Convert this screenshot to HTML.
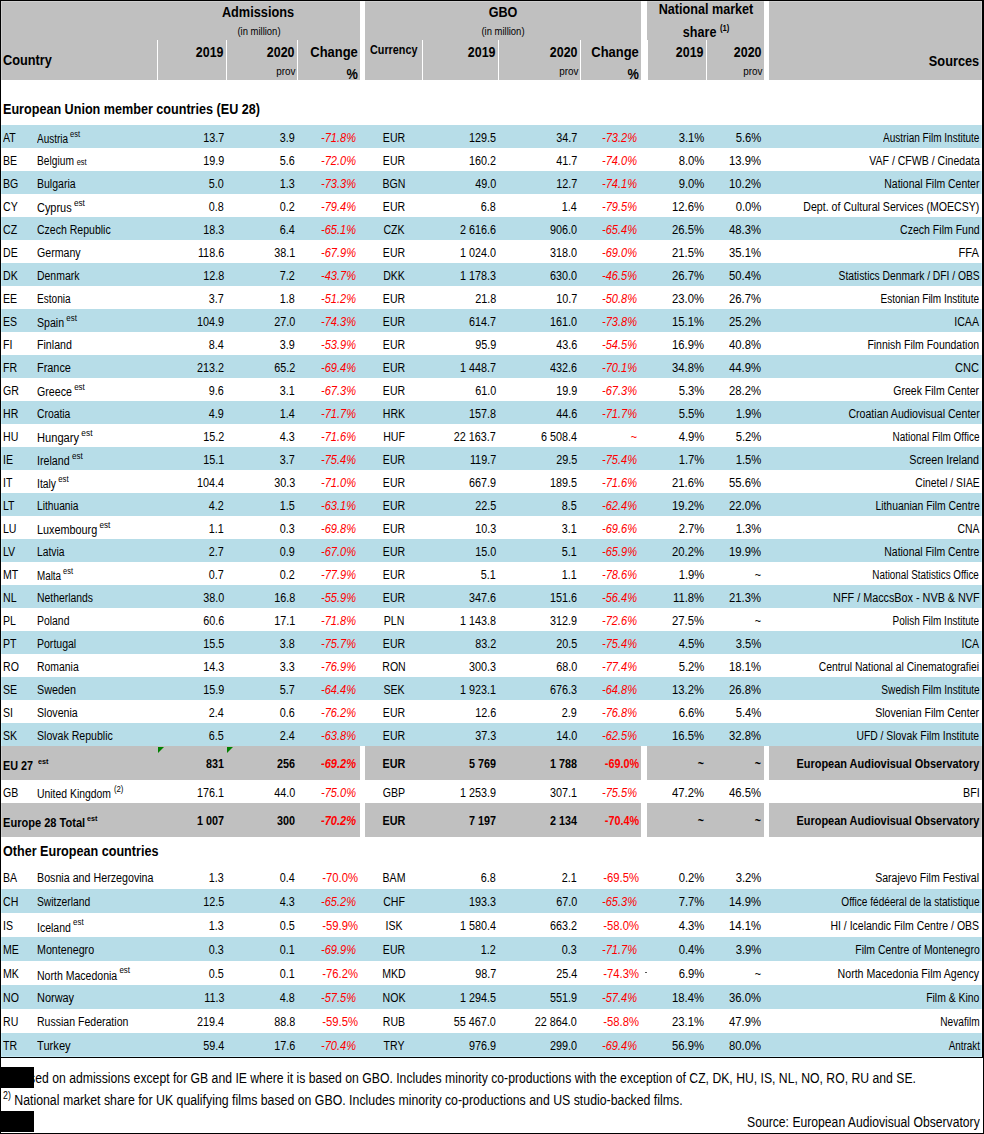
<!DOCTYPE html>
<html><head><meta charset="utf-8"><style>
html,body{margin:0;padding:0;background:#fff;width:984px;height:1134px;overflow:hidden;}
body{position:relative;font-family:"Liberation Sans",sans-serif;}
.r{position:absolute;}
.t{position:absolute;white-space:nowrap;line-height:normal;color:#000;}
</style></head><body>
<div class="r" style="left:1px;top:1px;width:359px;height:79px;background:#c0c0c0"></div>
<div class="r" style="left:365px;top:1px;width:276px;height:79px;background:#c0c0c0"></div>
<div class="r" style="left:647px;top:1px;width:117px;height:39px;background:#c0c0c0"></div>
<div class="r" style="left:648px;top:40px;width:116px;height:40px;background:#c0c0c0"></div>
<div class="r" style="left:769px;top:1px;width:213px;height:79px;background:#c0c0c0"></div>
<div class="r" style="left:157px;top:40px;width:1px;height:40px;background:#ffffff"></div>
<div class="r" style="left:226px;top:40px;width:1px;height:40px;background:#ffffff"></div>
<div class="r" style="left:297px;top:40px;width:1px;height:40px;background:#ffffff"></div>
<div class="r" style="left:422px;top:40px;width:1px;height:40px;background:#ffffff"></div>
<div class="r" style="left:498px;top:40px;width:1px;height:40px;background:#ffffff"></div>
<div class="r" style="left:580px;top:40px;width:1px;height:40px;background:#ffffff"></div>
<div class="r" style="left:706px;top:40px;width:1px;height:40px;background:#ffffff"></div>
<div class="r" style="left:1px;top:125px;width:981px;height:23px;background:#b7dde8"></div>
<div class="r" style="left:1px;top:171px;width:981px;height:23px;background:#b7dde8"></div>
<div class="r" style="left:1px;top:217px;width:981px;height:23px;background:#b7dde8"></div>
<div class="r" style="left:1px;top:263px;width:981px;height:23px;background:#b7dde8"></div>
<div class="r" style="left:1px;top:309px;width:981px;height:23px;background:#b7dde8"></div>
<div class="r" style="left:1px;top:355px;width:981px;height:23px;background:#b7dde8"></div>
<div class="r" style="left:1px;top:401px;width:981px;height:23px;background:#b7dde8"></div>
<div class="r" style="left:1px;top:447px;width:981px;height:23px;background:#b7dde8"></div>
<div class="r" style="left:1px;top:493px;width:981px;height:23px;background:#b7dde8"></div>
<div class="r" style="left:1px;top:539px;width:981px;height:23px;background:#b7dde8"></div>
<div class="r" style="left:1px;top:585px;width:981px;height:23px;background:#b7dde8"></div>
<div class="r" style="left:1px;top:631px;width:981px;height:23px;background:#b7dde8"></div>
<div class="r" style="left:1px;top:677px;width:981px;height:23px;background:#b7dde8"></div>
<div class="r" style="left:1px;top:723px;width:981px;height:23px;background:#b7dde8"></div>
<div class="r" style="left:1px;top:746px;width:359px;height:34px;background:#c0c0c0"></div>
<div class="r" style="left:365px;top:746px;width:276px;height:34px;background:#c0c0c0"></div>
<div class="r" style="left:647px;top:746px;width:117px;height:34px;background:#c0c0c0"></div>
<div class="r" style="left:769px;top:746px;width:213px;height:34px;background:#c0c0c0"></div>
<div class="r" style="left:1px;top:803px;width:359px;height:34px;background:#c0c0c0"></div>
<div class="r" style="left:365px;top:803px;width:276px;height:34px;background:#c0c0c0"></div>
<div class="r" style="left:647px;top:803px;width:117px;height:34px;background:#c0c0c0"></div>
<div class="r" style="left:769px;top:803px;width:213px;height:34px;background:#c0c0c0"></div>
<div class="r" style="left:1px;top:889px;width:981px;height:24px;background:#b7dde8"></div>
<div class="r" style="left:1px;top:937px;width:981px;height:24px;background:#b7dde8"></div>
<div class="r" style="left:1px;top:985px;width:981px;height:24px;background:#b7dde8"></div>
<div class="r" style="left:1px;top:1033px;width:981px;height:24px;background:#b7dde8"></div>
<div class="r" style="left:1px;top:1px;width:359px;height:1px;background:#cfcfcf"></div>
<div class="r" style="left:365px;top:1px;width:276px;height:1px;background:#cfcfcf"></div>
<div class="r" style="left:647px;top:1px;width:117px;height:1px;background:#cfcfcf"></div>
<div class="r" style="left:769px;top:1px;width:213px;height:1px;background:#cfcfcf"></div>
<div class="r" style="left:1px;top:2px;width:1px;height:78px;background:#cfcfcf"></div>
<div class="r" style="left:981px;top:2px;width:1px;height:78px;background:#cfcfcf"></div>
<div class="r" style="left:1px;top:125px;width:1px;height:23px;background:#c6ecf7"></div>
<div class="r" style="left:981px;top:125px;width:1px;height:23px;background:#c6ecf7"></div>
<div class="r" style="left:1px;top:171px;width:1px;height:23px;background:#c6ecf7"></div>
<div class="r" style="left:981px;top:171px;width:1px;height:23px;background:#c6ecf7"></div>
<div class="r" style="left:1px;top:217px;width:1px;height:23px;background:#c6ecf7"></div>
<div class="r" style="left:981px;top:217px;width:1px;height:23px;background:#c6ecf7"></div>
<div class="r" style="left:1px;top:263px;width:1px;height:23px;background:#c6ecf7"></div>
<div class="r" style="left:981px;top:263px;width:1px;height:23px;background:#c6ecf7"></div>
<div class="r" style="left:1px;top:309px;width:1px;height:23px;background:#c6ecf7"></div>
<div class="r" style="left:981px;top:309px;width:1px;height:23px;background:#c6ecf7"></div>
<div class="r" style="left:1px;top:355px;width:1px;height:23px;background:#c6ecf7"></div>
<div class="r" style="left:981px;top:355px;width:1px;height:23px;background:#c6ecf7"></div>
<div class="r" style="left:1px;top:401px;width:1px;height:23px;background:#c6ecf7"></div>
<div class="r" style="left:981px;top:401px;width:1px;height:23px;background:#c6ecf7"></div>
<div class="r" style="left:1px;top:447px;width:1px;height:23px;background:#c6ecf7"></div>
<div class="r" style="left:981px;top:447px;width:1px;height:23px;background:#c6ecf7"></div>
<div class="r" style="left:1px;top:493px;width:1px;height:23px;background:#c6ecf7"></div>
<div class="r" style="left:981px;top:493px;width:1px;height:23px;background:#c6ecf7"></div>
<div class="r" style="left:1px;top:539px;width:1px;height:23px;background:#c6ecf7"></div>
<div class="r" style="left:981px;top:539px;width:1px;height:23px;background:#c6ecf7"></div>
<div class="r" style="left:1px;top:585px;width:1px;height:23px;background:#c6ecf7"></div>
<div class="r" style="left:981px;top:585px;width:1px;height:23px;background:#c6ecf7"></div>
<div class="r" style="left:1px;top:631px;width:1px;height:23px;background:#c6ecf7"></div>
<div class="r" style="left:981px;top:631px;width:1px;height:23px;background:#c6ecf7"></div>
<div class="r" style="left:1px;top:677px;width:1px;height:23px;background:#c6ecf7"></div>
<div class="r" style="left:981px;top:677px;width:1px;height:23px;background:#c6ecf7"></div>
<div class="r" style="left:1px;top:723px;width:1px;height:23px;background:#c6ecf7"></div>
<div class="r" style="left:981px;top:723px;width:1px;height:23px;background:#c6ecf7"></div>
<div class="r" style="left:1px;top:746px;width:1px;height:34px;background:#cfcfcf"></div>
<div class="r" style="left:981px;top:746px;width:1px;height:34px;background:#cfcfcf"></div>
<div class="r" style="left:1px;top:803px;width:1px;height:34px;background:#cfcfcf"></div>
<div class="r" style="left:981px;top:803px;width:1px;height:34px;background:#cfcfcf"></div>
<div class="r" style="left:1px;top:889px;width:1px;height:24px;background:#c6ecf7"></div>
<div class="r" style="left:981px;top:889px;width:1px;height:24px;background:#c6ecf7"></div>
<div class="r" style="left:1px;top:937px;width:1px;height:24px;background:#c6ecf7"></div>
<div class="r" style="left:981px;top:937px;width:1px;height:24px;background:#c6ecf7"></div>
<div class="r" style="left:1px;top:985px;width:1px;height:24px;background:#c6ecf7"></div>
<div class="r" style="left:981px;top:985px;width:1px;height:24px;background:#c6ecf7"></div>
<div class="r" style="left:1px;top:1033px;width:1px;height:24px;background:#c6ecf7"></div>
<div class="r" style="left:981px;top:1033px;width:1px;height:24px;background:#c6ecf7"></div>
<div class="r" style="left:2px;top:1056px;width:979px;height:1px;background:#c6ecf7"></div>
<div class="r" style="left:0px;top:0px;width:984px;height:1px;background:#000"></div>
<div class="r" style="left:0px;top:0px;width:1px;height:1134px;background:#000"></div>
<div class="r" style="left:982px;top:0px;width:2px;height:1058px;background:#000"></div>
<div class="r" style="left:983px;top:1058px;width:1px;height:76px;background:#000"></div>
<div class="r" style="left:0px;top:1057px;width:983px;height:1px;background:#000"></div>
<div class="r" style="left:0px;top:1133px;width:984px;height:1px;background:#000"></div>
<div class="t" style="top:51px;font-size:15.5px;font-weight:bold;left:3px;transform:scaleX(0.823);transform-origin:0 0;">Country</div>
<div class="t" style="top:4px;font-size:14px;font-weight:bold;left:258.3px;transform:translateX(-50%) scaleX(0.91);transform-origin:50% 0;">Admissions</div>
<div class="t" style="top:25px;font-size:10.5px;left:259px;transform:translateX(-50%) scaleX(0.9);transform-origin:50% 0;">(in million)</div>
<div class="t" style="top:43px;font-size:15.5px;font-weight:bold;right:760.3px;transform:scaleX(0.803);transform-origin:100% 0;">2019</div>
<div class="t" style="top:43px;font-size:15.5px;font-weight:bold;right:689.4px;transform:scaleX(0.803);transform-origin:100% 0;">2020</div>
<div class="t" style="top:65px;font-size:11px;right:688.8px;transform:scaleX(0.9);transform-origin:100% 0;">prov</div>
<div class="t" style="top:43px;font-size:15.5px;font-weight:bold;right:626.3px;transform:scaleX(0.837);transform-origin:100% 0;">Change</div>
<div class="t" style="top:65px;font-size:15.5px;font-weight:bold;right:626.3px;transform:scaleX(0.823);transform-origin:100% 0;">%</div>
<div class="t" style="top:4px;font-size:14px;font-weight:bold;left:503px;transform:translateX(-50%) scaleX(0.9);transform-origin:50% 0;">GBO</div>
<div class="t" style="top:25px;font-size:10.5px;left:503px;transform:translateX(-50%) scaleX(0.9);transform-origin:50% 0;">(in million)</div>
<div class="t" style="top:43px;font-size:12px;font-weight:bold;left:370px;transform:scaleX(0.9);transform-origin:0 0;">Currency</div>
<div class="t" style="top:43px;font-size:15.5px;font-weight:bold;right:488.6px;transform:scaleX(0.803);transform-origin:100% 0;">2019</div>
<div class="t" style="top:43px;font-size:15.5px;font-weight:bold;right:406.5px;transform:scaleX(0.803);transform-origin:100% 0;">2020</div>
<div class="t" style="top:65px;font-size:11px;right:406px;transform:scaleX(0.9);transform-origin:100% 0;">prov</div>
<div class="t" style="top:43px;font-size:15.5px;font-weight:bold;right:345px;transform:scaleX(0.837);transform-origin:100% 0;">Change</div>
<div class="t" style="top:65px;font-size:15.5px;font-weight:bold;right:345px;transform:scaleX(0.823);transform-origin:100% 0;">%</div>
<div class="t" style="top:1px;font-size:14px;font-weight:bold;left:706px;transform:translateX(-50%) scaleX(0.9);transform-origin:50% 0;">National market</div>
<div class="t" style="top:24px;font-size:14px;font-weight:bold;left:706px;transform:translateX(-50%) scaleX(0.9);transform-origin:50% 0;">share <span style="font-size:8.5px;position:relative;top:-6px">(1)</span></div>
<div class="t" style="top:43px;font-size:15.5px;font-weight:bold;right:280.4px;transform:scaleX(0.803);transform-origin:100% 0;">2019</div>
<div class="t" style="top:43px;font-size:15.5px;font-weight:bold;right:222.39999999999998px;transform:scaleX(0.803);transform-origin:100% 0;">2020</div>
<div class="t" style="top:65px;font-size:11px;right:222px;transform:scaleX(0.9);transform-origin:100% 0;">prov</div>
<div class="t" style="top:52px;font-size:15.5px;font-weight:bold;right:4.5px;transform:scaleX(0.823);transform-origin:100% 0;">Sources</div>
<div class="t" style="top:101px;font-size:14px;font-weight:bold;left:3px;transform:scaleX(0.9);transform-origin:0 0;">European Union member countries (EU 28)</div>
<div class="t" style="top:843px;font-size:14px;font-weight:bold;left:3px;transform:scaleX(0.9);transform-origin:0 0;">Other European countries</div>
<div class="t" style="top:131px;font-size:12px;left:3px;transform:scaleX(0.88);transform-origin:0 0;">AT</div>
<div class="t" style="top:132px;font-size:12px;left:37px;transform:scaleX(0.829);transform-origin:0 0;">Austria<span style="font-size:9px;position:relative;top:-6px"> est</span></div>
<div class="t" style="top:131px;font-size:12px;right:760px;transform:scaleX(0.9);transform-origin:100% 0;">13.7</div>
<div class="t" style="top:131px;font-size:12px;right:689px;transform:scaleX(0.9);transform-origin:100% 0;">3.9</div>
<div class="t" style="top:131px;font-size:12px;font-style:italic;color:#ff0000;right:628px;transform:scaleX(0.92);transform-origin:100% 0;">-71.8%</div>
<div class="t" style="top:131px;font-size:12px;left:393.5px;transform:translateX(-50%) scaleX(0.88);transform-origin:50% 0;">EUR</div>
<div class="t" style="top:131px;font-size:12px;right:488px;transform:scaleX(0.9);transform-origin:100% 0;">129.5</div>
<div class="t" style="top:131px;font-size:12px;right:407px;transform:scaleX(0.9);transform-origin:100% 0;">34.7</div>
<div class="t" style="top:131px;font-size:12px;font-style:italic;color:#ff0000;right:347px;transform:scaleX(0.92);transform-origin:100% 0;">-73.2%</div>
<div class="t" style="top:131px;font-size:12px;right:280px;transform:scaleX(0.94);transform-origin:100% 0;">3.1%</div>
<div class="t" style="top:131px;font-size:12px;right:222.5px;transform:scaleX(0.94);transform-origin:100% 0;">5.6%</div>
<div class="t" style="top:131px;font-size:12px;right:4.7000000000000455px;transform:scaleX(0.835);transform-origin:100% 0;">Austrian Film Institute</div>
<div class="t" style="top:154px;font-size:12px;left:3px;transform:scaleX(0.88);transform-origin:0 0;">BE</div>
<div class="t" style="top:154px;font-size:12px;left:37px;transform:scaleX(0.851);transform-origin:0 0;">Belgium <span style="font-size:8.7px;position:relative;top:0px">est</span></div>
<div class="t" style="top:154px;font-size:12px;right:760px;transform:scaleX(0.9);transform-origin:100% 0;">19.9</div>
<div class="t" style="top:154px;font-size:12px;right:689px;transform:scaleX(0.9);transform-origin:100% 0;">5.6</div>
<div class="t" style="top:154px;font-size:12px;font-style:italic;color:#ff0000;right:628px;transform:scaleX(0.92);transform-origin:100% 0;">-72.0%</div>
<div class="t" style="top:154px;font-size:12px;left:393.5px;transform:translateX(-50%) scaleX(0.88);transform-origin:50% 0;">EUR</div>
<div class="t" style="top:154px;font-size:12px;right:488px;transform:scaleX(0.9);transform-origin:100% 0;">160.2</div>
<div class="t" style="top:154px;font-size:12px;right:407px;transform:scaleX(0.9);transform-origin:100% 0;">41.7</div>
<div class="t" style="top:154px;font-size:12px;font-style:italic;color:#ff0000;right:347px;transform:scaleX(0.92);transform-origin:100% 0;">-74.0%</div>
<div class="t" style="top:154px;font-size:12px;right:280px;transform:scaleX(0.94);transform-origin:100% 0;">8.0%</div>
<div class="t" style="top:154px;font-size:12px;right:222.5px;transform:scaleX(0.94);transform-origin:100% 0;">13.9%</div>
<div class="t" style="top:154px;font-size:12px;right:4.7000000000000455px;transform:scaleX(0.879);transform-origin:100% 0;">VAF / CFWB / Cinedata</div>
<div class="t" style="top:177px;font-size:12px;left:3px;transform:scaleX(0.88);transform-origin:0 0;">BG</div>
<div class="t" style="top:177px;font-size:12px;left:37px;transform:scaleX(0.877);transform-origin:0 0;">Bulgaria</div>
<div class="t" style="top:177px;font-size:12px;right:760px;transform:scaleX(0.9);transform-origin:100% 0;">5.0</div>
<div class="t" style="top:177px;font-size:12px;right:689px;transform:scaleX(0.9);transform-origin:100% 0;">1.3</div>
<div class="t" style="top:177px;font-size:12px;font-style:italic;color:#ff0000;right:628px;transform:scaleX(0.92);transform-origin:100% 0;">-73.3%</div>
<div class="t" style="top:177px;font-size:12px;left:393.5px;transform:translateX(-50%) scaleX(0.88);transform-origin:50% 0;">BGN</div>
<div class="t" style="top:177px;font-size:12px;right:488px;transform:scaleX(0.9);transform-origin:100% 0;">49.0</div>
<div class="t" style="top:177px;font-size:12px;right:407px;transform:scaleX(0.9);transform-origin:100% 0;">12.7</div>
<div class="t" style="top:177px;font-size:12px;font-style:italic;color:#ff0000;right:347px;transform:scaleX(0.92);transform-origin:100% 0;">-74.1%</div>
<div class="t" style="top:177px;font-size:12px;right:280px;transform:scaleX(0.94);transform-origin:100% 0;">9.0%</div>
<div class="t" style="top:177px;font-size:12px;right:222.5px;transform:scaleX(0.94);transform-origin:100% 0;">10.2%</div>
<div class="t" style="top:177px;font-size:12px;right:4.7000000000000455px;transform:scaleX(0.869);transform-origin:100% 0;">National Film Center</div>
<div class="t" style="top:200px;font-size:12px;left:3px;transform:scaleX(0.88);transform-origin:0 0;">CY</div>
<div class="t" style="top:201px;font-size:12px;left:37px;transform:scaleX(0.911);transform-origin:0 0;">Cyprus<span style="font-size:9px;position:relative;top:-6px"> est</span></div>
<div class="t" style="top:200px;font-size:12px;right:760px;transform:scaleX(0.9);transform-origin:100% 0;">0.8</div>
<div class="t" style="top:200px;font-size:12px;right:689px;transform:scaleX(0.9);transform-origin:100% 0;">0.2</div>
<div class="t" style="top:200px;font-size:12px;font-style:italic;color:#ff0000;right:628px;transform:scaleX(0.92);transform-origin:100% 0;">-79.4%</div>
<div class="t" style="top:200px;font-size:12px;left:393.5px;transform:translateX(-50%) scaleX(0.88);transform-origin:50% 0;">EUR</div>
<div class="t" style="top:200px;font-size:12px;right:488px;transform:scaleX(0.9);transform-origin:100% 0;">6.8</div>
<div class="t" style="top:200px;font-size:12px;right:407px;transform:scaleX(0.9);transform-origin:100% 0;">1.4</div>
<div class="t" style="top:200px;font-size:12px;font-style:italic;color:#ff0000;right:347px;transform:scaleX(0.92);transform-origin:100% 0;">-79.5%</div>
<div class="t" style="top:200px;font-size:12px;right:280px;transform:scaleX(0.94);transform-origin:100% 0;">12.6%</div>
<div class="t" style="top:200px;font-size:12px;right:222.5px;transform:scaleX(0.94);transform-origin:100% 0;">0.0%</div>
<div class="t" style="top:200px;font-size:12px;right:4.7000000000000455px;transform:scaleX(0.883);transform-origin:100% 0;">Dept. of Cultural Services (MOECSY)</div>
<div class="t" style="top:223px;font-size:12px;left:3px;transform:scaleX(0.88);transform-origin:0 0;">CZ</div>
<div class="t" style="top:223px;font-size:12px;left:37px;transform:scaleX(0.877);transform-origin:0 0;">Czech Republic</div>
<div class="t" style="top:223px;font-size:12px;right:760px;transform:scaleX(0.9);transform-origin:100% 0;">18.3</div>
<div class="t" style="top:223px;font-size:12px;right:689px;transform:scaleX(0.9);transform-origin:100% 0;">6.4</div>
<div class="t" style="top:223px;font-size:12px;font-style:italic;color:#ff0000;right:628px;transform:scaleX(0.92);transform-origin:100% 0;">-65.1%</div>
<div class="t" style="top:223px;font-size:12px;left:393.5px;transform:translateX(-50%) scaleX(0.88);transform-origin:50% 0;">CZK</div>
<div class="t" style="top:223px;font-size:12px;right:488px;transform:scaleX(0.9);transform-origin:100% 0;">2 616.6</div>
<div class="t" style="top:223px;font-size:12px;right:407px;transform:scaleX(0.9);transform-origin:100% 0;">906.0</div>
<div class="t" style="top:223px;font-size:12px;font-style:italic;color:#ff0000;right:347px;transform:scaleX(0.92);transform-origin:100% 0;">-65.4%</div>
<div class="t" style="top:223px;font-size:12px;right:280px;transform:scaleX(0.94);transform-origin:100% 0;">26.5%</div>
<div class="t" style="top:223px;font-size:12px;right:222.5px;transform:scaleX(0.94);transform-origin:100% 0;">48.3%</div>
<div class="t" style="top:223px;font-size:12px;right:4.7000000000000455px;transform:scaleX(0.878);transform-origin:100% 0;">Czech Film Fund</div>
<div class="t" style="top:246px;font-size:12px;left:3px;transform:scaleX(0.88);transform-origin:0 0;">DE</div>
<div class="t" style="top:246px;font-size:12px;left:37px;transform:scaleX(0.884);transform-origin:0 0;">Germany</div>
<div class="t" style="top:246px;font-size:12px;right:760px;transform:scaleX(0.9);transform-origin:100% 0;">118.6</div>
<div class="t" style="top:246px;font-size:12px;right:689px;transform:scaleX(0.9);transform-origin:100% 0;">38.1</div>
<div class="t" style="top:246px;font-size:12px;font-style:italic;color:#ff0000;right:628px;transform:scaleX(0.92);transform-origin:100% 0;">-67.9%</div>
<div class="t" style="top:246px;font-size:12px;left:393.5px;transform:translateX(-50%) scaleX(0.88);transform-origin:50% 0;">EUR</div>
<div class="t" style="top:246px;font-size:12px;right:488px;transform:scaleX(0.9);transform-origin:100% 0;">1 024.0</div>
<div class="t" style="top:246px;font-size:12px;right:407px;transform:scaleX(0.9);transform-origin:100% 0;">318.0</div>
<div class="t" style="top:246px;font-size:12px;font-style:italic;color:#ff0000;right:347px;transform:scaleX(0.92);transform-origin:100% 0;">-69.0%</div>
<div class="t" style="top:246px;font-size:12px;right:280px;transform:scaleX(0.94);transform-origin:100% 0;">21.5%</div>
<div class="t" style="top:246px;font-size:12px;right:222.5px;transform:scaleX(0.94);transform-origin:100% 0;">35.1%</div>
<div class="t" style="top:246px;font-size:12px;right:4.7000000000000455px;transform:scaleX(0.93);transform-origin:100% 0;">FFA</div>
<div class="t" style="top:269px;font-size:12px;left:3px;transform:scaleX(0.88);transform-origin:0 0;">DK</div>
<div class="t" style="top:269px;font-size:12px;left:37px;transform:scaleX(0.871);transform-origin:0 0;">Denmark</div>
<div class="t" style="top:269px;font-size:12px;right:760px;transform:scaleX(0.9);transform-origin:100% 0;">12.8</div>
<div class="t" style="top:269px;font-size:12px;right:689px;transform:scaleX(0.9);transform-origin:100% 0;">7.2</div>
<div class="t" style="top:269px;font-size:12px;font-style:italic;color:#ff0000;right:628px;transform:scaleX(0.92);transform-origin:100% 0;">-43.7%</div>
<div class="t" style="top:269px;font-size:12px;left:393.5px;transform:translateX(-50%) scaleX(0.88);transform-origin:50% 0;">DKK</div>
<div class="t" style="top:269px;font-size:12px;right:488px;transform:scaleX(0.9);transform-origin:100% 0;">1 178.3</div>
<div class="t" style="top:269px;font-size:12px;right:407px;transform:scaleX(0.9);transform-origin:100% 0;">630.0</div>
<div class="t" style="top:269px;font-size:12px;font-style:italic;color:#ff0000;right:347px;transform:scaleX(0.92);transform-origin:100% 0;">-46.5%</div>
<div class="t" style="top:269px;font-size:12px;right:280px;transform:scaleX(0.94);transform-origin:100% 0;">26.7%</div>
<div class="t" style="top:269px;font-size:12px;right:222.5px;transform:scaleX(0.94);transform-origin:100% 0;">50.4%</div>
<div class="t" style="top:269px;font-size:12px;right:4.7000000000000455px;transform:scaleX(0.857);transform-origin:100% 0;">Statistics Denmark / DFI / OBS</div>
<div class="t" style="top:292px;font-size:12px;left:3px;transform:scaleX(0.88);transform-origin:0 0;">EE</div>
<div class="t" style="top:292px;font-size:12px;left:37px;transform:scaleX(0.84);transform-origin:0 0;">Estonia</div>
<div class="t" style="top:292px;font-size:12px;right:760px;transform:scaleX(0.9);transform-origin:100% 0;">3.7</div>
<div class="t" style="top:292px;font-size:12px;right:689px;transform:scaleX(0.9);transform-origin:100% 0;">1.8</div>
<div class="t" style="top:292px;font-size:12px;font-style:italic;color:#ff0000;right:628px;transform:scaleX(0.92);transform-origin:100% 0;">-51.2%</div>
<div class="t" style="top:292px;font-size:12px;left:393.5px;transform:translateX(-50%) scaleX(0.88);transform-origin:50% 0;">EUR</div>
<div class="t" style="top:292px;font-size:12px;right:488px;transform:scaleX(0.9);transform-origin:100% 0;">21.8</div>
<div class="t" style="top:292px;font-size:12px;right:407px;transform:scaleX(0.9);transform-origin:100% 0;">10.7</div>
<div class="t" style="top:292px;font-size:12px;font-style:italic;color:#ff0000;right:347px;transform:scaleX(0.92);transform-origin:100% 0;">-50.8%</div>
<div class="t" style="top:292px;font-size:12px;right:280px;transform:scaleX(0.94);transform-origin:100% 0;">23.0%</div>
<div class="t" style="top:292px;font-size:12px;right:222.5px;transform:scaleX(0.94);transform-origin:100% 0;">26.7%</div>
<div class="t" style="top:292px;font-size:12px;right:4.7000000000000455px;transform:scaleX(0.835);transform-origin:100% 0;">Estonian Film Institute</div>
<div class="t" style="top:315px;font-size:12px;left:3px;transform:scaleX(0.88);transform-origin:0 0;">ES</div>
<div class="t" style="top:316px;font-size:12px;left:37px;transform:scaleX(0.883);transform-origin:0 0;">Spain<span style="font-size:9px;position:relative;top:-6px"> est</span></div>
<div class="t" style="top:315px;font-size:12px;right:760px;transform:scaleX(0.9);transform-origin:100% 0;">104.9</div>
<div class="t" style="top:315px;font-size:12px;right:689px;transform:scaleX(0.9);transform-origin:100% 0;">27.0</div>
<div class="t" style="top:315px;font-size:12px;font-style:italic;color:#ff0000;right:628px;transform:scaleX(0.92);transform-origin:100% 0;">-74.3%</div>
<div class="t" style="top:315px;font-size:12px;left:393.5px;transform:translateX(-50%) scaleX(0.88);transform-origin:50% 0;">EUR</div>
<div class="t" style="top:315px;font-size:12px;right:488px;transform:scaleX(0.9);transform-origin:100% 0;">614.7</div>
<div class="t" style="top:315px;font-size:12px;right:407px;transform:scaleX(0.9);transform-origin:100% 0;">161.0</div>
<div class="t" style="top:315px;font-size:12px;font-style:italic;color:#ff0000;right:347px;transform:scaleX(0.92);transform-origin:100% 0;">-73.8%</div>
<div class="t" style="top:315px;font-size:12px;right:280px;transform:scaleX(0.94);transform-origin:100% 0;">15.1%</div>
<div class="t" style="top:315px;font-size:12px;right:222.5px;transform:scaleX(0.94);transform-origin:100% 0;">25.2%</div>
<div class="t" style="top:315px;font-size:12px;right:4.7000000000000455px;transform:scaleX(0.883);transform-origin:100% 0;">ICAA</div>
<div class="t" style="top:338px;font-size:12px;left:3px;transform:scaleX(0.88);transform-origin:0 0;">FI</div>
<div class="t" style="top:338px;font-size:12px;left:37px;transform:scaleX(0.887);transform-origin:0 0;">Finland</div>
<div class="t" style="top:338px;font-size:12px;right:760px;transform:scaleX(0.9);transform-origin:100% 0;">8.4</div>
<div class="t" style="top:338px;font-size:12px;right:689px;transform:scaleX(0.9);transform-origin:100% 0;">3.9</div>
<div class="t" style="top:338px;font-size:12px;font-style:italic;color:#ff0000;right:628px;transform:scaleX(0.92);transform-origin:100% 0;">-53.9%</div>
<div class="t" style="top:338px;font-size:12px;left:393.5px;transform:translateX(-50%) scaleX(0.88);transform-origin:50% 0;">EUR</div>
<div class="t" style="top:338px;font-size:12px;right:488px;transform:scaleX(0.9);transform-origin:100% 0;">95.9</div>
<div class="t" style="top:338px;font-size:12px;right:407px;transform:scaleX(0.9);transform-origin:100% 0;">43.6</div>
<div class="t" style="top:338px;font-size:12px;font-style:italic;color:#ff0000;right:347px;transform:scaleX(0.92);transform-origin:100% 0;">-54.5%</div>
<div class="t" style="top:338px;font-size:12px;right:280px;transform:scaleX(0.94);transform-origin:100% 0;">16.9%</div>
<div class="t" style="top:338px;font-size:12px;right:222.5px;transform:scaleX(0.94);transform-origin:100% 0;">40.8%</div>
<div class="t" style="top:338px;font-size:12px;right:4.7000000000000455px;transform:scaleX(0.872);transform-origin:100% 0;">Finnish Film Foundation</div>
<div class="t" style="top:361px;font-size:12px;left:3px;transform:scaleX(0.88);transform-origin:0 0;">FR</div>
<div class="t" style="top:361px;font-size:12px;left:37px;transform:scaleX(0.908);transform-origin:0 0;">France</div>
<div class="t" style="top:361px;font-size:12px;right:760px;transform:scaleX(0.9);transform-origin:100% 0;">213.2</div>
<div class="t" style="top:361px;font-size:12px;right:689px;transform:scaleX(0.9);transform-origin:100% 0;">65.2</div>
<div class="t" style="top:361px;font-size:12px;font-style:italic;color:#ff0000;right:628px;transform:scaleX(0.92);transform-origin:100% 0;">-69.4%</div>
<div class="t" style="top:361px;font-size:12px;left:393.5px;transform:translateX(-50%) scaleX(0.88);transform-origin:50% 0;">EUR</div>
<div class="t" style="top:361px;font-size:12px;right:488px;transform:scaleX(0.9);transform-origin:100% 0;">1 448.7</div>
<div class="t" style="top:361px;font-size:12px;right:407px;transform:scaleX(0.9);transform-origin:100% 0;">432.6</div>
<div class="t" style="top:361px;font-size:12px;font-style:italic;color:#ff0000;right:347px;transform:scaleX(0.92);transform-origin:100% 0;">-70.1%</div>
<div class="t" style="top:361px;font-size:12px;right:280px;transform:scaleX(0.94);transform-origin:100% 0;">34.8%</div>
<div class="t" style="top:361px;font-size:12px;right:222.5px;transform:scaleX(0.94);transform-origin:100% 0;">44.9%</div>
<div class="t" style="top:361px;font-size:12px;right:4.7000000000000455px;transform:scaleX(0.925);transform-origin:100% 0;">CNC</div>
<div class="t" style="top:384px;font-size:12px;left:3px;transform:scaleX(0.88);transform-origin:0 0;">GR</div>
<div class="t" style="top:385px;font-size:12px;left:37px;transform:scaleX(0.887);transform-origin:0 0;">Greece<span style="font-size:9px;position:relative;top:-6px"> est</span></div>
<div class="t" style="top:384px;font-size:12px;right:760px;transform:scaleX(0.9);transform-origin:100% 0;">9.6</div>
<div class="t" style="top:384px;font-size:12px;right:689px;transform:scaleX(0.9);transform-origin:100% 0;">3.1</div>
<div class="t" style="top:384px;font-size:12px;font-style:italic;color:#ff0000;right:628px;transform:scaleX(0.92);transform-origin:100% 0;">-67.3%</div>
<div class="t" style="top:384px;font-size:12px;left:393.5px;transform:translateX(-50%) scaleX(0.88);transform-origin:50% 0;">EUR</div>
<div class="t" style="top:384px;font-size:12px;right:488px;transform:scaleX(0.9);transform-origin:100% 0;">61.0</div>
<div class="t" style="top:384px;font-size:12px;right:407px;transform:scaleX(0.9);transform-origin:100% 0;">19.9</div>
<div class="t" style="top:384px;font-size:12px;font-style:italic;color:#ff0000;right:347px;transform:scaleX(0.92);transform-origin:100% 0;">-67.3%</div>
<div class="t" style="top:384px;font-size:12px;right:280px;transform:scaleX(0.94);transform-origin:100% 0;">5.3%</div>
<div class="t" style="top:384px;font-size:12px;right:222.5px;transform:scaleX(0.94);transform-origin:100% 0;">28.2%</div>
<div class="t" style="top:384px;font-size:12px;right:4.7000000000000455px;transform:scaleX(0.874);transform-origin:100% 0;">Greek Film Center</div>
<div class="t" style="top:407px;font-size:12px;left:3px;transform:scaleX(0.88);transform-origin:0 0;">HR</div>
<div class="t" style="top:407px;font-size:12px;left:37px;transform:scaleX(0.862);transform-origin:0 0;">Croatia</div>
<div class="t" style="top:407px;font-size:12px;right:760px;transform:scaleX(0.9);transform-origin:100% 0;">4.9</div>
<div class="t" style="top:407px;font-size:12px;right:689px;transform:scaleX(0.9);transform-origin:100% 0;">1.4</div>
<div class="t" style="top:407px;font-size:12px;font-style:italic;color:#ff0000;right:628px;transform:scaleX(0.92);transform-origin:100% 0;">-71.7%</div>
<div class="t" style="top:407px;font-size:12px;left:393.5px;transform:translateX(-50%) scaleX(0.88);transform-origin:50% 0;">HRK</div>
<div class="t" style="top:407px;font-size:12px;right:488px;transform:scaleX(0.9);transform-origin:100% 0;">157.8</div>
<div class="t" style="top:407px;font-size:12px;right:407px;transform:scaleX(0.9);transform-origin:100% 0;">44.6</div>
<div class="t" style="top:407px;font-size:12px;font-style:italic;color:#ff0000;right:347px;transform:scaleX(0.92);transform-origin:100% 0;">-71.7%</div>
<div class="t" style="top:407px;font-size:12px;right:280px;transform:scaleX(0.94);transform-origin:100% 0;">5.5%</div>
<div class="t" style="top:407px;font-size:12px;right:222.5px;transform:scaleX(0.94);transform-origin:100% 0;">1.9%</div>
<div class="t" style="top:407px;font-size:12px;right:4.7000000000000455px;transform:scaleX(0.883);transform-origin:100% 0;">Croatian Audiovisual Center</div>
<div class="t" style="top:430px;font-size:12px;left:3px;transform:scaleX(0.88);transform-origin:0 0;">HU</div>
<div class="t" style="top:431px;font-size:12px;left:37px;transform:scaleX(0.927);transform-origin:0 0;">Hungary<span style="font-size:9px;position:relative;top:-6px"> est</span></div>
<div class="t" style="top:430px;font-size:12px;right:760px;transform:scaleX(0.9);transform-origin:100% 0;">15.2</div>
<div class="t" style="top:430px;font-size:12px;right:689px;transform:scaleX(0.9);transform-origin:100% 0;">4.3</div>
<div class="t" style="top:430px;font-size:12px;font-style:italic;color:#ff0000;right:628px;transform:scaleX(0.92);transform-origin:100% 0;">-71.6%</div>
<div class="t" style="top:430px;font-size:12px;left:393.5px;transform:translateX(-50%) scaleX(0.88);transform-origin:50% 0;">HUF</div>
<div class="t" style="top:430px;font-size:12px;right:488px;transform:scaleX(0.9);transform-origin:100% 0;">22 163.7</div>
<div class="t" style="top:430px;font-size:12px;right:407px;transform:scaleX(0.9);transform-origin:100% 0;">6 508.4</div>
<div class="t" style="top:430px;font-size:12px;font-style:italic;color:#ff0000;right:347px;transform:scaleX(0.92);transform-origin:100% 0;">~</div>
<div class="t" style="top:430px;font-size:12px;right:280px;transform:scaleX(0.94);transform-origin:100% 0;">4.9%</div>
<div class="t" style="top:430px;font-size:12px;right:222.5px;transform:scaleX(0.94);transform-origin:100% 0;">5.2%</div>
<div class="t" style="top:430px;font-size:12px;right:4.7000000000000455px;transform:scaleX(0.833);transform-origin:100% 0;">National Film Office</div>
<div class="t" style="top:453px;font-size:12px;left:3px;transform:scaleX(0.88);transform-origin:0 0;">IE</div>
<div class="t" style="top:454px;font-size:12px;left:37px;transform:scaleX(0.892);transform-origin:0 0;">Ireland<span style="font-size:9px;position:relative;top:-6px"> est</span></div>
<div class="t" style="top:453px;font-size:12px;right:760px;transform:scaleX(0.9);transform-origin:100% 0;">15.1</div>
<div class="t" style="top:453px;font-size:12px;right:689px;transform:scaleX(0.9);transform-origin:100% 0;">3.7</div>
<div class="t" style="top:453px;font-size:12px;font-style:italic;color:#ff0000;right:628px;transform:scaleX(0.92);transform-origin:100% 0;">-75.4%</div>
<div class="t" style="top:453px;font-size:12px;left:393.5px;transform:translateX(-50%) scaleX(0.88);transform-origin:50% 0;">EUR</div>
<div class="t" style="top:453px;font-size:12px;right:488px;transform:scaleX(0.9);transform-origin:100% 0;">119.7</div>
<div class="t" style="top:453px;font-size:12px;right:407px;transform:scaleX(0.9);transform-origin:100% 0;">29.5</div>
<div class="t" style="top:453px;font-size:12px;font-style:italic;color:#ff0000;right:347px;transform:scaleX(0.92);transform-origin:100% 0;">-75.4%</div>
<div class="t" style="top:453px;font-size:12px;right:280px;transform:scaleX(0.94);transform-origin:100% 0;">1.7%</div>
<div class="t" style="top:453px;font-size:12px;right:222.5px;transform:scaleX(0.94);transform-origin:100% 0;">1.5%</div>
<div class="t" style="top:453px;font-size:12px;right:4.7000000000000455px;transform:scaleX(0.894);transform-origin:100% 0;">Screen Ireland</div>
<div class="t" style="top:476px;font-size:12px;left:3px;transform:scaleX(0.88);transform-origin:0 0;">IT</div>
<div class="t" style="top:477px;font-size:12px;left:37px;transform:scaleX(0.864);transform-origin:0 0;">Italy<span style="font-size:9px;position:relative;top:-6px"> est</span></div>
<div class="t" style="top:476px;font-size:12px;right:760px;transform:scaleX(0.9);transform-origin:100% 0;">104.4</div>
<div class="t" style="top:476px;font-size:12px;right:689px;transform:scaleX(0.9);transform-origin:100% 0;">30.3</div>
<div class="t" style="top:476px;font-size:12px;font-style:italic;color:#ff0000;right:628px;transform:scaleX(0.92);transform-origin:100% 0;">-71.0%</div>
<div class="t" style="top:476px;font-size:12px;left:393.5px;transform:translateX(-50%) scaleX(0.88);transform-origin:50% 0;">EUR</div>
<div class="t" style="top:476px;font-size:12px;right:488px;transform:scaleX(0.9);transform-origin:100% 0;">667.9</div>
<div class="t" style="top:476px;font-size:12px;right:407px;transform:scaleX(0.9);transform-origin:100% 0;">189.5</div>
<div class="t" style="top:476px;font-size:12px;font-style:italic;color:#ff0000;right:347px;transform:scaleX(0.92);transform-origin:100% 0;">-71.6%</div>
<div class="t" style="top:476px;font-size:12px;right:280px;transform:scaleX(0.94);transform-origin:100% 0;">21.6%</div>
<div class="t" style="top:476px;font-size:12px;right:222.5px;transform:scaleX(0.94);transform-origin:100% 0;">55.6%</div>
<div class="t" style="top:476px;font-size:12px;right:4.7000000000000455px;transform:scaleX(0.863);transform-origin:100% 0;">Cinetel / SIAE</div>
<div class="t" style="top:499px;font-size:12px;left:3px;transform:scaleX(0.88);transform-origin:0 0;">LT</div>
<div class="t" style="top:499px;font-size:12px;left:37px;transform:scaleX(0.851);transform-origin:0 0;">Lithuania</div>
<div class="t" style="top:499px;font-size:12px;right:760px;transform:scaleX(0.9);transform-origin:100% 0;">4.2</div>
<div class="t" style="top:499px;font-size:12px;right:689px;transform:scaleX(0.9);transform-origin:100% 0;">1.5</div>
<div class="t" style="top:499px;font-size:12px;font-style:italic;color:#ff0000;right:628px;transform:scaleX(0.92);transform-origin:100% 0;">-63.1%</div>
<div class="t" style="top:499px;font-size:12px;left:393.5px;transform:translateX(-50%) scaleX(0.88);transform-origin:50% 0;">EUR</div>
<div class="t" style="top:499px;font-size:12px;right:488px;transform:scaleX(0.9);transform-origin:100% 0;">22.5</div>
<div class="t" style="top:499px;font-size:12px;right:407px;transform:scaleX(0.9);transform-origin:100% 0;">8.5</div>
<div class="t" style="top:499px;font-size:12px;font-style:italic;color:#ff0000;right:347px;transform:scaleX(0.92);transform-origin:100% 0;">-62.4%</div>
<div class="t" style="top:499px;font-size:12px;right:280px;transform:scaleX(0.94);transform-origin:100% 0;">19.2%</div>
<div class="t" style="top:499px;font-size:12px;right:222.5px;transform:scaleX(0.94);transform-origin:100% 0;">22.0%</div>
<div class="t" style="top:499px;font-size:12px;right:4.7000000000000455px;transform:scaleX(0.864);transform-origin:100% 0;">Lithuanian Film Centre</div>
<div class="t" style="top:522px;font-size:12px;left:3px;transform:scaleX(0.88);transform-origin:0 0;">LU</div>
<div class="t" style="top:523px;font-size:12px;left:37px;transform:scaleX(0.902);transform-origin:0 0;">Luxembourg<span style="font-size:9px;position:relative;top:-6px"> est</span></div>
<div class="t" style="top:522px;font-size:12px;right:760px;transform:scaleX(0.9);transform-origin:100% 0;">1.1</div>
<div class="t" style="top:522px;font-size:12px;right:689px;transform:scaleX(0.9);transform-origin:100% 0;">0.3</div>
<div class="t" style="top:522px;font-size:12px;font-style:italic;color:#ff0000;right:628px;transform:scaleX(0.92);transform-origin:100% 0;">-69.8%</div>
<div class="t" style="top:522px;font-size:12px;left:393.5px;transform:translateX(-50%) scaleX(0.88);transform-origin:50% 0;">EUR</div>
<div class="t" style="top:522px;font-size:12px;right:488px;transform:scaleX(0.9);transform-origin:100% 0;">10.3</div>
<div class="t" style="top:522px;font-size:12px;right:407px;transform:scaleX(0.9);transform-origin:100% 0;">3.1</div>
<div class="t" style="top:522px;font-size:12px;font-style:italic;color:#ff0000;right:347px;transform:scaleX(0.92);transform-origin:100% 0;">-69.6%</div>
<div class="t" style="top:522px;font-size:12px;right:280px;transform:scaleX(0.94);transform-origin:100% 0;">2.7%</div>
<div class="t" style="top:522px;font-size:12px;right:222.5px;transform:scaleX(0.94);transform-origin:100% 0;">1.3%</div>
<div class="t" style="top:522px;font-size:12px;right:4.7000000000000455px;transform:scaleX(0.866);transform-origin:100% 0;">CNA</div>
<div class="t" style="top:545px;font-size:12px;left:3px;transform:scaleX(0.88);transform-origin:0 0;">LV</div>
<div class="t" style="top:545px;font-size:12px;left:37px;transform:scaleX(0.859);transform-origin:0 0;">Latvia</div>
<div class="t" style="top:545px;font-size:12px;right:760px;transform:scaleX(0.9);transform-origin:100% 0;">2.7</div>
<div class="t" style="top:545px;font-size:12px;right:689px;transform:scaleX(0.9);transform-origin:100% 0;">0.9</div>
<div class="t" style="top:545px;font-size:12px;font-style:italic;color:#ff0000;right:628px;transform:scaleX(0.92);transform-origin:100% 0;">-67.0%</div>
<div class="t" style="top:545px;font-size:12px;left:393.5px;transform:translateX(-50%) scaleX(0.88);transform-origin:50% 0;">EUR</div>
<div class="t" style="top:545px;font-size:12px;right:488px;transform:scaleX(0.9);transform-origin:100% 0;">15.0</div>
<div class="t" style="top:545px;font-size:12px;right:407px;transform:scaleX(0.9);transform-origin:100% 0;">5.1</div>
<div class="t" style="top:545px;font-size:12px;font-style:italic;color:#ff0000;right:347px;transform:scaleX(0.92);transform-origin:100% 0;">-65.9%</div>
<div class="t" style="top:545px;font-size:12px;right:280px;transform:scaleX(0.94);transform-origin:100% 0;">20.2%</div>
<div class="t" style="top:545px;font-size:12px;right:222.5px;transform:scaleX(0.94);transform-origin:100% 0;">19.9%</div>
<div class="t" style="top:545px;font-size:12px;right:4.7000000000000455px;transform:scaleX(0.869);transform-origin:100% 0;">National Film Centre</div>
<div class="t" style="top:568px;font-size:12px;left:3px;transform:scaleX(0.88);transform-origin:0 0;">MT</div>
<div class="t" style="top:569px;font-size:12px;left:37px;transform:scaleX(0.82);transform-origin:0 0;">Malta<span style="font-size:9px;position:relative;top:-6px"> est</span></div>
<div class="t" style="top:568px;font-size:12px;right:760px;transform:scaleX(0.9);transform-origin:100% 0;">0.7</div>
<div class="t" style="top:568px;font-size:12px;right:689px;transform:scaleX(0.9);transform-origin:100% 0;">0.2</div>
<div class="t" style="top:568px;font-size:12px;font-style:italic;color:#ff0000;right:628px;transform:scaleX(0.92);transform-origin:100% 0;">-77.9%</div>
<div class="t" style="top:568px;font-size:12px;left:393.5px;transform:translateX(-50%) scaleX(0.88);transform-origin:50% 0;">EUR</div>
<div class="t" style="top:568px;font-size:12px;right:488px;transform:scaleX(0.9);transform-origin:100% 0;">5.1</div>
<div class="t" style="top:568px;font-size:12px;right:407px;transform:scaleX(0.9);transform-origin:100% 0;">1.1</div>
<div class="t" style="top:568px;font-size:12px;font-style:italic;color:#ff0000;right:347px;transform:scaleX(0.92);transform-origin:100% 0;">-78.6%</div>
<div class="t" style="top:568px;font-size:12px;right:280px;transform:scaleX(0.94);transform-origin:100% 0;">1.9%</div>
<div class="t" style="top:568px;font-size:12px;right:222.5px;transform:scaleX(0.9);transform-origin:100% 0;">~</div>
<div class="t" style="top:568px;font-size:12px;right:4.7000000000000455px;transform:scaleX(0.82);transform-origin:100% 0;">National Statistics Office</div>
<div class="t" style="top:591px;font-size:12px;left:3px;transform:scaleX(0.88);transform-origin:0 0;">NL</div>
<div class="t" style="top:591px;font-size:12px;left:37px;transform:scaleX(0.866);transform-origin:0 0;">Netherlands</div>
<div class="t" style="top:591px;font-size:12px;right:760px;transform:scaleX(0.9);transform-origin:100% 0;">38.0</div>
<div class="t" style="top:591px;font-size:12px;right:689px;transform:scaleX(0.9);transform-origin:100% 0;">16.8</div>
<div class="t" style="top:591px;font-size:12px;font-style:italic;color:#ff0000;right:628px;transform:scaleX(0.92);transform-origin:100% 0;">-55.9%</div>
<div class="t" style="top:591px;font-size:12px;left:393.5px;transform:translateX(-50%) scaleX(0.88);transform-origin:50% 0;">EUR</div>
<div class="t" style="top:591px;font-size:12px;right:488px;transform:scaleX(0.9);transform-origin:100% 0;">347.6</div>
<div class="t" style="top:591px;font-size:12px;right:407px;transform:scaleX(0.9);transform-origin:100% 0;">151.6</div>
<div class="t" style="top:591px;font-size:12px;font-style:italic;color:#ff0000;right:347px;transform:scaleX(0.92);transform-origin:100% 0;">-56.4%</div>
<div class="t" style="top:591px;font-size:12px;right:280px;transform:scaleX(0.94);transform-origin:100% 0;">11.8%</div>
<div class="t" style="top:591px;font-size:12px;right:222.5px;transform:scaleX(0.94);transform-origin:100% 0;">21.3%</div>
<div class="t" style="top:591px;font-size:12px;right:4.7000000000000455px;transform:scaleX(0.901);transform-origin:100% 0;">NFF / MaccsBox - NVB &amp; NVF</div>
<div class="t" style="top:614px;font-size:12px;left:3px;transform:scaleX(0.88);transform-origin:0 0;">PL</div>
<div class="t" style="top:614px;font-size:12px;left:37px;transform:scaleX(0.868);transform-origin:0 0;">Poland</div>
<div class="t" style="top:614px;font-size:12px;right:760px;transform:scaleX(0.9);transform-origin:100% 0;">60.6</div>
<div class="t" style="top:614px;font-size:12px;right:689px;transform:scaleX(0.9);transform-origin:100% 0;">17.1</div>
<div class="t" style="top:614px;font-size:12px;font-style:italic;color:#ff0000;right:628px;transform:scaleX(0.92);transform-origin:100% 0;">-71.8%</div>
<div class="t" style="top:614px;font-size:12px;left:393.5px;transform:translateX(-50%) scaleX(0.88);transform-origin:50% 0;">PLN</div>
<div class="t" style="top:614px;font-size:12px;right:488px;transform:scaleX(0.9);transform-origin:100% 0;">1 143.8</div>
<div class="t" style="top:614px;font-size:12px;right:407px;transform:scaleX(0.9);transform-origin:100% 0;">312.9</div>
<div class="t" style="top:614px;font-size:12px;font-style:italic;color:#ff0000;right:347px;transform:scaleX(0.92);transform-origin:100% 0;">-72.6%</div>
<div class="t" style="top:614px;font-size:12px;right:280px;transform:scaleX(0.94);transform-origin:100% 0;">27.5%</div>
<div class="t" style="top:614px;font-size:12px;right:222.5px;transform:scaleX(0.9);transform-origin:100% 0;">~</div>
<div class="t" style="top:614px;font-size:12px;right:4.7000000000000455px;transform:scaleX(0.831);transform-origin:100% 0;">Polish Film Institute</div>
<div class="t" style="top:637px;font-size:12px;left:3px;transform:scaleX(0.88);transform-origin:0 0;">PT</div>
<div class="t" style="top:637px;font-size:12px;left:37px;transform:scaleX(0.877);transform-origin:0 0;">Portugal</div>
<div class="t" style="top:637px;font-size:12px;right:760px;transform:scaleX(0.9);transform-origin:100% 0;">15.5</div>
<div class="t" style="top:637px;font-size:12px;right:689px;transform:scaleX(0.9);transform-origin:100% 0;">3.8</div>
<div class="t" style="top:637px;font-size:12px;font-style:italic;color:#ff0000;right:628px;transform:scaleX(0.92);transform-origin:100% 0;">-75.7%</div>
<div class="t" style="top:637px;font-size:12px;left:393.5px;transform:translateX(-50%) scaleX(0.88);transform-origin:50% 0;">EUR</div>
<div class="t" style="top:637px;font-size:12px;right:488px;transform:scaleX(0.9);transform-origin:100% 0;">83.2</div>
<div class="t" style="top:637px;font-size:12px;right:407px;transform:scaleX(0.9);transform-origin:100% 0;">20.5</div>
<div class="t" style="top:637px;font-size:12px;font-style:italic;color:#ff0000;right:347px;transform:scaleX(0.92);transform-origin:100% 0;">-75.4%</div>
<div class="t" style="top:637px;font-size:12px;right:280px;transform:scaleX(0.94);transform-origin:100% 0;">4.5%</div>
<div class="t" style="top:637px;font-size:12px;right:222.5px;transform:scaleX(0.94);transform-origin:100% 0;">3.5%</div>
<div class="t" style="top:637px;font-size:12px;right:4.7000000000000455px;transform:scaleX(0.876);transform-origin:100% 0;">ICA</div>
<div class="t" style="top:660px;font-size:12px;left:3px;transform:scaleX(0.88);transform-origin:0 0;">RO</div>
<div class="t" style="top:660px;font-size:12px;left:37px;transform:scaleX(0.869);transform-origin:0 0;">Romania</div>
<div class="t" style="top:660px;font-size:12px;right:760px;transform:scaleX(0.9);transform-origin:100% 0;">14.3</div>
<div class="t" style="top:660px;font-size:12px;right:689px;transform:scaleX(0.9);transform-origin:100% 0;">3.3</div>
<div class="t" style="top:660px;font-size:12px;font-style:italic;color:#ff0000;right:628px;transform:scaleX(0.92);transform-origin:100% 0;">-76.9%</div>
<div class="t" style="top:660px;font-size:12px;left:393.5px;transform:translateX(-50%) scaleX(0.88);transform-origin:50% 0;">RON</div>
<div class="t" style="top:660px;font-size:12px;right:488px;transform:scaleX(0.9);transform-origin:100% 0;">300.3</div>
<div class="t" style="top:660px;font-size:12px;right:407px;transform:scaleX(0.9);transform-origin:100% 0;">68.0</div>
<div class="t" style="top:660px;font-size:12px;font-style:italic;color:#ff0000;right:347px;transform:scaleX(0.92);transform-origin:100% 0;">-77.4%</div>
<div class="t" style="top:660px;font-size:12px;right:280px;transform:scaleX(0.94);transform-origin:100% 0;">5.2%</div>
<div class="t" style="top:660px;font-size:12px;right:222.5px;transform:scaleX(0.94);transform-origin:100% 0;">18.1%</div>
<div class="t" style="top:660px;font-size:12px;right:4.7000000000000455px;transform:scaleX(0.862);transform-origin:100% 0;">Centrul National al Cinematografiei</div>
<div class="t" style="top:683px;font-size:12px;left:3px;transform:scaleX(0.88);transform-origin:0 0;">SE</div>
<div class="t" style="top:683px;font-size:12px;left:37px;transform:scaleX(0.898);transform-origin:0 0;">Sweden</div>
<div class="t" style="top:683px;font-size:12px;right:760px;transform:scaleX(0.9);transform-origin:100% 0;">15.9</div>
<div class="t" style="top:683px;font-size:12px;right:689px;transform:scaleX(0.9);transform-origin:100% 0;">5.7</div>
<div class="t" style="top:683px;font-size:12px;font-style:italic;color:#ff0000;right:628px;transform:scaleX(0.92);transform-origin:100% 0;">-64.4%</div>
<div class="t" style="top:683px;font-size:12px;left:393.5px;transform:translateX(-50%) scaleX(0.88);transform-origin:50% 0;">SEK</div>
<div class="t" style="top:683px;font-size:12px;right:488px;transform:scaleX(0.9);transform-origin:100% 0;">1 923.1</div>
<div class="t" style="top:683px;font-size:12px;right:407px;transform:scaleX(0.9);transform-origin:100% 0;">676.3</div>
<div class="t" style="top:683px;font-size:12px;font-style:italic;color:#ff0000;right:347px;transform:scaleX(0.92);transform-origin:100% 0;">-64.8%</div>
<div class="t" style="top:683px;font-size:12px;right:280px;transform:scaleX(0.94);transform-origin:100% 0;">13.2%</div>
<div class="t" style="top:683px;font-size:12px;right:222.5px;transform:scaleX(0.94);transform-origin:100% 0;">26.8%</div>
<div class="t" style="top:683px;font-size:12px;right:4.7000000000000455px;transform:scaleX(0.843);transform-origin:100% 0;">Swedish Film Institute</div>
<div class="t" style="top:706px;font-size:12px;left:3px;transform:scaleX(0.88);transform-origin:0 0;">SI</div>
<div class="t" style="top:706px;font-size:12px;left:37px;transform:scaleX(0.885);transform-origin:0 0;">Slovenia</div>
<div class="t" style="top:706px;font-size:12px;right:760px;transform:scaleX(0.9);transform-origin:100% 0;">2.4</div>
<div class="t" style="top:706px;font-size:12px;right:689px;transform:scaleX(0.9);transform-origin:100% 0;">0.6</div>
<div class="t" style="top:706px;font-size:12px;font-style:italic;color:#ff0000;right:628px;transform:scaleX(0.92);transform-origin:100% 0;">-76.2%</div>
<div class="t" style="top:706px;font-size:12px;left:393.5px;transform:translateX(-50%) scaleX(0.88);transform-origin:50% 0;">EUR</div>
<div class="t" style="top:706px;font-size:12px;right:488px;transform:scaleX(0.9);transform-origin:100% 0;">12.6</div>
<div class="t" style="top:706px;font-size:12px;right:407px;transform:scaleX(0.9);transform-origin:100% 0;">2.9</div>
<div class="t" style="top:706px;font-size:12px;font-style:italic;color:#ff0000;right:347px;transform:scaleX(0.92);transform-origin:100% 0;">-76.8%</div>
<div class="t" style="top:706px;font-size:12px;right:280px;transform:scaleX(0.94);transform-origin:100% 0;">6.6%</div>
<div class="t" style="top:706px;font-size:12px;right:222.5px;transform:scaleX(0.94);transform-origin:100% 0;">5.4%</div>
<div class="t" style="top:706px;font-size:12px;right:4.7000000000000455px;transform:scaleX(0.88);transform-origin:100% 0;">Slovenian Film Center</div>
<div class="t" style="top:729px;font-size:12px;left:3px;transform:scaleX(0.88);transform-origin:0 0;">SK</div>
<div class="t" style="top:729px;font-size:12px;left:37px;transform:scaleX(0.881);transform-origin:0 0;">Slovak Republic</div>
<div class="t" style="top:729px;font-size:12px;right:760px;transform:scaleX(0.9);transform-origin:100% 0;">6.5</div>
<div class="t" style="top:729px;font-size:12px;right:689px;transform:scaleX(0.9);transform-origin:100% 0;">2.4</div>
<div class="t" style="top:729px;font-size:12px;font-style:italic;color:#ff0000;right:628px;transform:scaleX(0.92);transform-origin:100% 0;">-63.8%</div>
<div class="t" style="top:729px;font-size:12px;left:393.5px;transform:translateX(-50%) scaleX(0.88);transform-origin:50% 0;">EUR</div>
<div class="t" style="top:729px;font-size:12px;right:488px;transform:scaleX(0.9);transform-origin:100% 0;">37.3</div>
<div class="t" style="top:729px;font-size:12px;right:407px;transform:scaleX(0.9);transform-origin:100% 0;">14.0</div>
<div class="t" style="top:729px;font-size:12px;font-style:italic;color:#ff0000;right:347px;transform:scaleX(0.92);transform-origin:100% 0;">-62.5%</div>
<div class="t" style="top:729px;font-size:12px;right:280px;transform:scaleX(0.94);transform-origin:100% 0;">16.5%</div>
<div class="t" style="top:729px;font-size:12px;right:222.5px;transform:scaleX(0.94);transform-origin:100% 0;">32.8%</div>
<div class="t" style="top:729px;font-size:12px;right:4.7000000000000455px;transform:scaleX(0.863);transform-origin:100% 0;">UFD / Slovak Film Institute</div>
<div class="t" style="top:757px;font-size:12px;font-weight:bold;right:760px;transform:scaleX(0.9);transform-origin:100% 0;">831</div>
<div class="t" style="top:757px;font-size:12px;font-weight:bold;right:689px;transform:scaleX(0.9);transform-origin:100% 0;">256</div>
<div class="t" style="top:757px;font-size:12px;font-weight:bold;font-style:italic;color:#ff0000;right:628px;transform:scaleX(0.92);transform-origin:100% 0;">-69.2%</div>
<div class="t" style="top:757px;font-size:12px;font-weight:bold;left:393.5px;transform:translateX(-50%) scaleX(0.9);transform-origin:50% 0;">EUR</div>
<div class="t" style="top:757px;font-size:12px;font-weight:bold;right:488px;transform:scaleX(0.9);transform-origin:100% 0;">5 769</div>
<div class="t" style="top:757px;font-size:12px;font-weight:bold;right:407px;transform:scaleX(0.9);transform-origin:100% 0;">1 788</div>
<div class="t" style="top:757px;font-size:12px;font-weight:bold;color:#ff0000;right:345.20000000000005px;transform:scaleX(0.9);transform-origin:100% 0;">-69.0%</div>
<div class="t" style="top:757px;font-size:12px;font-weight:bold;right:280px;transform:scaleX(0.88);transform-origin:100% 0;">~</div>
<div class="t" style="top:757px;font-size:12px;font-weight:bold;right:222.5px;transform:scaleX(0.88);transform-origin:100% 0;">~</div>
<div class="t" style="top:757px;font-size:12px;font-weight:bold;right:4.7000000000000455px;transform:scaleX(0.913);transform-origin:100% 0;">European Audiovisual Observatory</div>
<div class="t" style="top:759px;font-size:12px;font-weight:bold;left:3px;transform:scaleX(0.9);transform-origin:0 0;">EU 27</div>
<div class="t" style="top:757px;font-size:8px;font-weight:bold;left:38px;transform:scaleX(0.9);transform-origin:0 0;">est</div>
<div class="t" style="top:786px;font-size:12px;left:3px;transform:scaleX(0.88);transform-origin:0 0;">GB</div>
<div class="t" style="top:787px;font-size:12px;left:37px;transform:scaleX(0.867);transform-origin:0 0;">United Kingdom <span style="font-size:9px;position:relative;top:-6px">(2)</span></div>
<div class="t" style="top:786px;font-size:12px;right:760px;transform:scaleX(0.9);transform-origin:100% 0;">176.1</div>
<div class="t" style="top:786px;font-size:12px;right:689px;transform:scaleX(0.9);transform-origin:100% 0;">44.0</div>
<div class="t" style="top:786px;font-size:12px;font-style:italic;color:#ff0000;right:628px;transform:scaleX(0.92);transform-origin:100% 0;">-75.0%</div>
<div class="t" style="top:786px;font-size:12px;left:393.5px;transform:translateX(-50%) scaleX(0.88);transform-origin:50% 0;">GBP</div>
<div class="t" style="top:786px;font-size:12px;right:488px;transform:scaleX(0.9);transform-origin:100% 0;">1 253.9</div>
<div class="t" style="top:786px;font-size:12px;right:407px;transform:scaleX(0.9);transform-origin:100% 0;">307.1</div>
<div class="t" style="top:786px;font-size:12px;font-style:italic;color:#ff0000;right:347px;transform:scaleX(0.92);transform-origin:100% 0;">-75.5%</div>
<div class="t" style="top:786px;font-size:12px;right:280px;transform:scaleX(0.94);transform-origin:100% 0;">47.2%</div>
<div class="t" style="top:786px;font-size:12px;right:222.5px;transform:scaleX(0.94);transform-origin:100% 0;">46.5%</div>
<div class="t" style="top:786px;font-size:12px;right:4.7000000000000455px;transform:scaleX(0.891);transform-origin:100% 0;">BFI</div>
<div class="t" style="top:814px;font-size:12px;font-weight:bold;right:760px;transform:scaleX(0.9);transform-origin:100% 0;">1 007</div>
<div class="t" style="top:814px;font-size:12px;font-weight:bold;right:689px;transform:scaleX(0.9);transform-origin:100% 0;">300</div>
<div class="t" style="top:814px;font-size:12px;font-weight:bold;font-style:italic;color:#ff0000;right:628px;transform:scaleX(0.92);transform-origin:100% 0;">-70.2%</div>
<div class="t" style="top:814px;font-size:12px;font-weight:bold;left:393.5px;transform:translateX(-50%) scaleX(0.9);transform-origin:50% 0;">EUR</div>
<div class="t" style="top:814px;font-size:12px;font-weight:bold;right:488px;transform:scaleX(0.9);transform-origin:100% 0;">7 197</div>
<div class="t" style="top:814px;font-size:12px;font-weight:bold;right:407px;transform:scaleX(0.9);transform-origin:100% 0;">2 134</div>
<div class="t" style="top:814px;font-size:12px;font-weight:bold;color:#ff0000;right:345.20000000000005px;transform:scaleX(0.9);transform-origin:100% 0;">-70.4%</div>
<div class="t" style="top:814px;font-size:12px;font-weight:bold;right:280px;transform:scaleX(0.88);transform-origin:100% 0;">~</div>
<div class="t" style="top:814px;font-size:12px;font-weight:bold;right:222.5px;transform:scaleX(0.88);transform-origin:100% 0;">~</div>
<div class="t" style="top:814px;font-size:12px;font-weight:bold;right:4.7000000000000455px;transform:scaleX(0.913);transform-origin:100% 0;">European Audiovisual Observatory</div>
<div class="t" style="top:816px;font-size:12px;font-weight:bold;left:3px;transform:scaleX(0.922);transform-origin:0 0;">Europe 28 Total</div>
<div class="t" style="top:814px;font-size:8px;font-weight:bold;left:87px;transform:scaleX(0.9);transform-origin:0 0;">est</div>
<div class="t" style="top:871px;font-size:12px;left:3px;transform:scaleX(0.88);transform-origin:0 0;">BA</div>
<div class="t" style="top:871px;font-size:12px;left:37px;transform:scaleX(0.891);transform-origin:0 0;">Bosnia and Herzegovina</div>
<div class="t" style="top:871px;font-size:12px;right:760px;transform:scaleX(0.9);transform-origin:100% 0;">1.3</div>
<div class="t" style="top:871px;font-size:12px;right:689px;transform:scaleX(0.9);transform-origin:100% 0;">0.4</div>
<div class="t" style="top:871px;font-size:12px;color:#ff0000;right:626.2px;transform:scaleX(0.94);transform-origin:100% 0;">-70.0%</div>
<div class="t" style="top:871px;font-size:12px;left:393.5px;transform:translateX(-50%) scaleX(0.88);transform-origin:50% 0;">BAM</div>
<div class="t" style="top:871px;font-size:12px;right:488px;transform:scaleX(0.9);transform-origin:100% 0;">6.8</div>
<div class="t" style="top:871px;font-size:12px;right:407px;transform:scaleX(0.9);transform-origin:100% 0;">2.1</div>
<div class="t" style="top:871px;font-size:12px;color:#ff0000;right:345.20000000000005px;transform:scaleX(0.94);transform-origin:100% 0;">-69.5%</div>
<div class="t" style="top:871px;font-size:12px;right:280px;transform:scaleX(0.94);transform-origin:100% 0;">0.2%</div>
<div class="t" style="top:871px;font-size:12px;right:222.5px;transform:scaleX(0.94);transform-origin:100% 0;">3.2%</div>
<div class="t" style="top:871px;font-size:12px;right:4.7000000000000455px;transform:scaleX(0.88);transform-origin:100% 0;">Sarajevo Film Festival</div>
<div class="t" style="top:895px;font-size:12px;left:3px;transform:scaleX(0.88);transform-origin:0 0;">CH</div>
<div class="t" style="top:895px;font-size:12px;left:37px;transform:scaleX(0.858);transform-origin:0 0;">Switzerland</div>
<div class="t" style="top:895px;font-size:12px;right:760px;transform:scaleX(0.9);transform-origin:100% 0;">12.5</div>
<div class="t" style="top:895px;font-size:12px;right:689px;transform:scaleX(0.9);transform-origin:100% 0;">4.3</div>
<div class="t" style="top:895px;font-size:12px;font-style:italic;color:#ff0000;right:628px;transform:scaleX(0.92);transform-origin:100% 0;">-65.2%</div>
<div class="t" style="top:895px;font-size:12px;left:393.5px;transform:translateX(-50%) scaleX(0.88);transform-origin:50% 0;">CHF</div>
<div class="t" style="top:895px;font-size:12px;right:488px;transform:scaleX(0.9);transform-origin:100% 0;">193.3</div>
<div class="t" style="top:895px;font-size:12px;right:407px;transform:scaleX(0.9);transform-origin:100% 0;">67.0</div>
<div class="t" style="top:895px;font-size:12px;font-style:italic;color:#ff0000;right:347px;transform:scaleX(0.92);transform-origin:100% 0;">-65.3%</div>
<div class="t" style="top:895px;font-size:12px;right:280px;transform:scaleX(0.94);transform-origin:100% 0;">7.7%</div>
<div class="t" style="top:895px;font-size:12px;right:222.5px;transform:scaleX(0.94);transform-origin:100% 0;">14.9%</div>
<div class="t" style="top:895px;font-size:12px;right:4.7000000000000455px;transform:scaleX(0.84);transform-origin:100% 0;">Office f&eacute;d&eacute;eral de la statistique</div>
<div class="t" style="top:919px;font-size:12px;left:3px;transform:scaleX(0.88);transform-origin:0 0;">IS</div>
<div class="t" style="top:921px;font-size:12px;left:37px;transform:scaleX(0.876);transform-origin:0 0;">Iceland<span style="font-size:9px;position:relative;top:-7px"> est</span></div>
<div class="t" style="top:919px;font-size:12px;right:760px;transform:scaleX(0.9);transform-origin:100% 0;">1.3</div>
<div class="t" style="top:919px;font-size:12px;right:689px;transform:scaleX(0.9);transform-origin:100% 0;">0.5</div>
<div class="t" style="top:919px;font-size:12px;color:#ff0000;right:626.2px;transform:scaleX(0.94);transform-origin:100% 0;">-59.9%</div>
<div class="t" style="top:919px;font-size:12px;left:393.5px;transform:translateX(-50%) scaleX(0.88);transform-origin:50% 0;">ISK</div>
<div class="t" style="top:919px;font-size:12px;right:488px;transform:scaleX(0.9);transform-origin:100% 0;">1 580.4</div>
<div class="t" style="top:919px;font-size:12px;right:407px;transform:scaleX(0.9);transform-origin:100% 0;">663.2</div>
<div class="t" style="top:919px;font-size:12px;color:#ff0000;right:345.20000000000005px;transform:scaleX(0.94);transform-origin:100% 0;">-58.0%</div>
<div class="t" style="top:919px;font-size:12px;right:280px;transform:scaleX(0.94);transform-origin:100% 0;">4.3%</div>
<div class="t" style="top:919px;font-size:12px;right:222.5px;transform:scaleX(0.94);transform-origin:100% 0;">14.1%</div>
<div class="t" style="top:919px;font-size:12px;right:4.7000000000000455px;transform:scaleX(0.874);transform-origin:100% 0;">HI / Icelandic Film Centre / OBS</div>
<div class="t" style="top:943px;font-size:12px;left:3px;transform:scaleX(0.88);transform-origin:0 0;">ME</div>
<div class="t" style="top:943px;font-size:12px;left:37px;transform:scaleX(0.892);transform-origin:0 0;">Montenegro</div>
<div class="t" style="top:943px;font-size:12px;right:760px;transform:scaleX(0.9);transform-origin:100% 0;">0.3</div>
<div class="t" style="top:943px;font-size:12px;right:689px;transform:scaleX(0.9);transform-origin:100% 0;">0.1</div>
<div class="t" style="top:943px;font-size:12px;font-style:italic;color:#ff0000;right:628px;transform:scaleX(0.92);transform-origin:100% 0;">-69.9%</div>
<div class="t" style="top:943px;font-size:12px;left:393.5px;transform:translateX(-50%) scaleX(0.88);transform-origin:50% 0;">EUR</div>
<div class="t" style="top:943px;font-size:12px;right:488px;transform:scaleX(0.9);transform-origin:100% 0;">1.2</div>
<div class="t" style="top:943px;font-size:12px;right:407px;transform:scaleX(0.9);transform-origin:100% 0;">0.3</div>
<div class="t" style="top:943px;font-size:12px;font-style:italic;color:#ff0000;right:347px;transform:scaleX(0.92);transform-origin:100% 0;">-71.7%</div>
<div class="t" style="top:943px;font-size:12px;right:280px;transform:scaleX(0.94);transform-origin:100% 0;">0.4%</div>
<div class="t" style="top:943px;font-size:12px;right:222.5px;transform:scaleX(0.94);transform-origin:100% 0;">3.9%</div>
<div class="t" style="top:943px;font-size:12px;right:4.7000000000000455px;transform:scaleX(0.872);transform-origin:100% 0;">Film Centre of Montenegro</div>
<div class="t" style="top:967px;font-size:12px;left:3px;transform:scaleX(0.88);transform-origin:0 0;">MK</div>
<div class="t" style="top:969px;font-size:12px;left:37px;transform:scaleX(0.878);transform-origin:0 0;">North Macedonia<span style="font-size:9px;position:relative;top:-7px"> est</span></div>
<div class="t" style="top:967px;font-size:12px;right:760px;transform:scaleX(0.9);transform-origin:100% 0;">0.5</div>
<div class="t" style="top:967px;font-size:12px;right:689px;transform:scaleX(0.9);transform-origin:100% 0;">0.1</div>
<div class="t" style="top:967px;font-size:12px;color:#ff0000;right:626.2px;transform:scaleX(0.94);transform-origin:100% 0;">-76.2%</div>
<div class="t" style="top:967px;font-size:12px;left:393.5px;transform:translateX(-50%) scaleX(0.88);transform-origin:50% 0;">MKD</div>
<div class="t" style="top:967px;font-size:12px;right:488px;transform:scaleX(0.9);transform-origin:100% 0;">98.7</div>
<div class="t" style="top:967px;font-size:12px;right:407px;transform:scaleX(0.9);transform-origin:100% 0;">25.4</div>
<div class="t" style="top:967px;font-size:12px;color:#ff0000;right:345.20000000000005px;transform:scaleX(0.94);transform-origin:100% 0;">-74.3%</div>
<div class="t" style="top:967px;font-size:12px;right:280px;transform:scaleX(0.94);transform-origin:100% 0;">6.9%</div>
<div class="t" style="top:967px;font-size:12px;right:222.5px;transform:scaleX(0.9);transform-origin:100% 0;">~</div>
<div class="t" style="top:967px;font-size:12px;right:4.7000000000000455px;transform:scaleX(0.884);transform-origin:100% 0;">North Macedonia Film Agency</div>
<div class="t" style="top:991px;font-size:12px;left:3px;transform:scaleX(0.88);transform-origin:0 0;">NO</div>
<div class="t" style="top:991px;font-size:12px;left:37px;transform:scaleX(0.912);transform-origin:0 0;">Norway</div>
<div class="t" style="top:991px;font-size:12px;right:760px;transform:scaleX(0.9);transform-origin:100% 0;">11.3</div>
<div class="t" style="top:991px;font-size:12px;right:689px;transform:scaleX(0.9);transform-origin:100% 0;">4.8</div>
<div class="t" style="top:991px;font-size:12px;font-style:italic;color:#ff0000;right:628px;transform:scaleX(0.92);transform-origin:100% 0;">-57.5%</div>
<div class="t" style="top:991px;font-size:12px;left:393.5px;transform:translateX(-50%) scaleX(0.88);transform-origin:50% 0;">NOK</div>
<div class="t" style="top:991px;font-size:12px;right:488px;transform:scaleX(0.9);transform-origin:100% 0;">1 294.5</div>
<div class="t" style="top:991px;font-size:12px;right:407px;transform:scaleX(0.9);transform-origin:100% 0;">551.9</div>
<div class="t" style="top:991px;font-size:12px;font-style:italic;color:#ff0000;right:347px;transform:scaleX(0.92);transform-origin:100% 0;">-57.4%</div>
<div class="t" style="top:991px;font-size:12px;right:280px;transform:scaleX(0.94);transform-origin:100% 0;">18.4%</div>
<div class="t" style="top:991px;font-size:12px;right:222.5px;transform:scaleX(0.94);transform-origin:100% 0;">36.0%</div>
<div class="t" style="top:991px;font-size:12px;right:4.7000000000000455px;transform:scaleX(0.867);transform-origin:100% 0;">Film &amp; Kino</div>
<div class="t" style="top:1015px;font-size:12px;left:3px;transform:scaleX(0.88);transform-origin:0 0;">RU</div>
<div class="t" style="top:1015px;font-size:12px;left:37px;transform:scaleX(0.878);transform-origin:0 0;">Russian Federation</div>
<div class="t" style="top:1015px;font-size:12px;right:760px;transform:scaleX(0.9);transform-origin:100% 0;">219.4</div>
<div class="t" style="top:1015px;font-size:12px;right:689px;transform:scaleX(0.9);transform-origin:100% 0;">88.8</div>
<div class="t" style="top:1015px;font-size:12px;color:#ff0000;right:626.2px;transform:scaleX(0.94);transform-origin:100% 0;">-59.5%</div>
<div class="t" style="top:1015px;font-size:12px;left:393.5px;transform:translateX(-50%) scaleX(0.88);transform-origin:50% 0;">RUB</div>
<div class="t" style="top:1015px;font-size:12px;right:488px;transform:scaleX(0.9);transform-origin:100% 0;">55 467.0</div>
<div class="t" style="top:1015px;font-size:12px;right:407px;transform:scaleX(0.9);transform-origin:100% 0;">22 864.0</div>
<div class="t" style="top:1015px;font-size:12px;color:#ff0000;right:345.20000000000005px;transform:scaleX(0.94);transform-origin:100% 0;">-58.8%</div>
<div class="t" style="top:1015px;font-size:12px;right:280px;transform:scaleX(0.94);transform-origin:100% 0;">23.1%</div>
<div class="t" style="top:1015px;font-size:12px;right:222.5px;transform:scaleX(0.94);transform-origin:100% 0;">47.9%</div>
<div class="t" style="top:1015px;font-size:12px;right:4.7000000000000455px;transform:scaleX(0.844);transform-origin:100% 0;">Nevafilm</div>
<div class="t" style="top:1039px;font-size:12px;left:3px;transform:scaleX(0.88);transform-origin:0 0;">TR</div>
<div class="t" style="top:1039px;font-size:12px;left:37px;transform:scaleX(0.93);transform-origin:0 0;">Turkey</div>
<div class="t" style="top:1039px;font-size:12px;right:760px;transform:scaleX(0.9);transform-origin:100% 0;">59.4</div>
<div class="t" style="top:1039px;font-size:12px;right:689px;transform:scaleX(0.9);transform-origin:100% 0;">17.6</div>
<div class="t" style="top:1039px;font-size:12px;font-style:italic;color:#ff0000;right:628px;transform:scaleX(0.92);transform-origin:100% 0;">-70.4%</div>
<div class="t" style="top:1039px;font-size:12px;left:393.5px;transform:translateX(-50%) scaleX(0.88);transform-origin:50% 0;">TRY</div>
<div class="t" style="top:1039px;font-size:12px;right:488px;transform:scaleX(0.9);transform-origin:100% 0;">976.9</div>
<div class="t" style="top:1039px;font-size:12px;right:407px;transform:scaleX(0.9);transform-origin:100% 0;">299.0</div>
<div class="t" style="top:1039px;font-size:12px;font-style:italic;color:#ff0000;right:347px;transform:scaleX(0.92);transform-origin:100% 0;">-69.4%</div>
<div class="t" style="top:1039px;font-size:12px;right:280px;transform:scaleX(0.94);transform-origin:100% 0;">56.9%</div>
<div class="t" style="top:1039px;font-size:12px;right:222.5px;transform:scaleX(0.94);transform-origin:100% 0;">80.0%</div>
<div class="t" style="top:1039px;font-size:12px;right:3.6000000000000227px;transform:scaleX(0.823);transform-origin:100% 0;">Antrakt</div>
<div class="r" style="left:644.5px;top:971.6px;width:2.5px;height:1.6000000000000227px;background:#555"></div>
<div class="r" style="left:158px;top:747px;width:0;height:0;border-top:6px solid #008000;border-right:6px solid transparent"></div>
<div class="r" style="left:227px;top:747px;width:0;height:0;border-top:6px solid #008000;border-right:6px solid transparent"></div>
<div class="t" style="top:1070px;font-size:14px;left:3px;transform:scaleX(0.872);transform-origin:0 0;"><span style="font-size:10px;position:relative;top:-6px">1)</span> Based on admissions except for GB and IE where it is based on GBO. Includes minority co-productions with the exception of CZ, DK, HU, IS, NL, NO, RO, RU and SE.</div>
<div class="t" style="top:1092px;font-size:14px;left:3px;transform:scaleX(0.88);transform-origin:0 0;"><span style="font-size:10px;position:relative;top:-6px">2)</span> National market share for UK qualifying films based on GBO. Includes minority co-productions and US studio-backed films.</div>
<div class="t" style="top:1114px;font-size:14px;right:4px;transform:scaleX(0.869);transform-origin:100% 0;">Source: European Audiovisual Observatory</div>
<div class="r" style="left:0px;top:1067px;width:34px;height:21px;background:#000"></div>
<div class="r" style="left:0px;top:1111px;width:34px;height:21px;background:#000"></div>
</body></html>
